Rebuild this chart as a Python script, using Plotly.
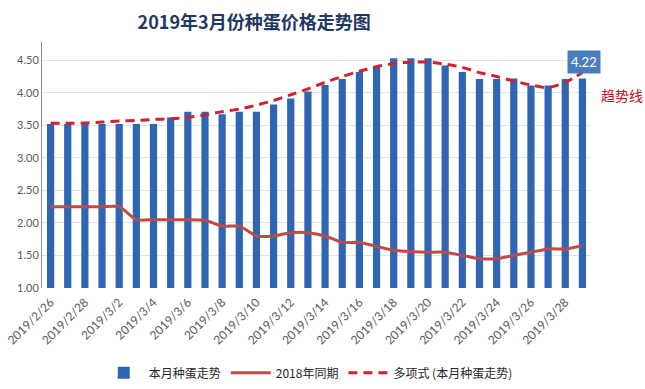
import plotly.graph_objects as go

dates = ["2019/2/26", "2019/2/27", "2019/2/28", "2019/3/1", "2019/3/2", "2019/3/3", "2019/3/4",
         "2019/3/5", "2019/3/6", "2019/3/7", "2019/3/8", "2019/3/9", "2019/3/10", "2019/3/11",
         "2019/3/12", "2019/3/13", "2019/3/14", "2019/3/15", "2019/3/16", "2019/3/17", "2019/3/18",
         "2019/3/19", "2019/3/20", "2019/3/21", "2019/3/22", "2019/3/23", "2019/3/24", "2019/3/25",
         "2019/3/26", "2019/3/27", "2019/3/28", "2019/3/29"]

this_month = [3.52, 3.52, 3.52, 3.52, 3.52, 3.52, 3.52, 3.62, 3.71, 3.71, 3.67, 3.71, 3.71, 3.82,
              3.91, 4.02, 4.12, 4.21, 4.32, 4.41, 4.53, 4.53, 4.53, 4.42, 4.32, 4.21, 4.21, 4.22,
              4.11, 4.11, 4.21, 4.22]

last_year = [2.25, 2.25, 2.25, 2.25, 2.25, 2.05, 2.05, 2.05, 2.05, 2.04, 1.95, 1.95, 1.80, 1.80,
             1.85, 1.85, 1.80, 1.70, 1.70, 1.64, 1.58, 1.56, 1.55, 1.55, 1.50, 1.45, 1.45, 1.50,
             1.55, 1.60, 1.60, 1.65]

trend = [3.53, 3.53, 3.535, 3.55, 3.565, 3.575, 3.59, 3.60, 3.62, 3.66, 3.71, 3.75, 3.81, 3.88,
         3.97, 4.06, 4.16, 4.25, 4.33, 4.40, 4.45, 4.47, 4.47, 4.44, 4.39, 4.31, 4.25, 4.18,
         4.12, 4.08, 4.16, 4.31]

tick_labels = dates[::2]
y_ticks = [1.0, 1.5, 2.0, 2.5, 3.0, 3.5, 4.0, 4.5]

FONT = "Lato, Noto Sans CJK SC, sans-serif"
CJK = "Noto Sans CJK SC, sans-serif"

fig = go.Figure()
fig.add_trace(go.Bar(
    x=dates, y=this_month, name="本月种蛋走势",
    marker=dict(color="#2F66B3", line=dict(width=0)),
))
fig.add_trace(go.Scatter(
    x=dates, y=last_year, name="2018年同期", mode="lines",
    line=dict(color="#BE4B48", width=3, shape="spline", smoothing=0.6),
))
fig.add_trace(go.Scatter(
    x=dates, y=trend, name="多项式 (本月种蛋走势)", mode="lines",
    line=dict(color="#D2202F", width=3, dash="9px,6px", shape="spline", smoothing=0.8),
))

fig.add_annotation(
    x=dates[-1], y=this_month[-1], xref="x", yref="y",
    text="4.22", showarrow=False, yshift=16, xshift=2,
    xanchor="center", yanchor="middle",
    bgcolor="#4A7EBB", font=dict(color="white", size=13, family=FONT),
    borderpad=3,
)
fig.add_annotation(
    x=1.057, y=0.785, xref="paper", yref="paper",
    text="趋势线", showarrow=False, xanchor="center", yanchor="middle",
    font=dict(color="#C0101A", size=14, family=CJK),
)

fig.update_layout(
    width=645, height=389,
    margin=dict(l=42, r=54, t=42, b=101, autoexpand=False),
    paper_bgcolor="white", plot_bgcolor="white",
    title=dict(text="<b>2019年3月份种蛋价格走势图</b>", x=0.394, xanchor="center",
               y=0.941, yanchor="middle", xref="container", yref="container",
               automargin=False,
               font=dict(size=18, color="#1F3864", family=CJK)),
    bargap=0.58,
    showlegend=True,
    legend=dict(orientation="h", x=0.485, xanchor="center", y=-0.345, yanchor="middle",
                font=dict(size=12, color="#262626", family=CJK),
                itemwidth=40, traceorder="normal"),
    xaxis=dict(
        type="category", tickmode="array", tickvals=tick_labels, ticktext=tick_labels,
        tickangle=-45, tickfont=dict(size=12, color="#595959", family=FONT),
        showgrid=False, showline=False, ticks="", range=[-0.5, len(dates) - 0.5],
        ticklabelstandoff=4, automargin=False,
    ),
    yaxis=dict(
        range=[1.0, 4.78], tickvals=y_ticks, tickformat=".2f",
        tickfont=dict(size=11, color="#595959", family=FONT),
        showgrid=True, gridcolor="#E3E3E3", gridwidth=1,
        showline=True, linecolor="#8C8C8C", linewidth=1, ticks="", zeroline=False,
        automargin=False,
    ),
)

fig.write_html("out.html", config={"displayModeBar": False},
               post_script="document.body.style.margin='0px';document.body.style.overflow='hidden';")
